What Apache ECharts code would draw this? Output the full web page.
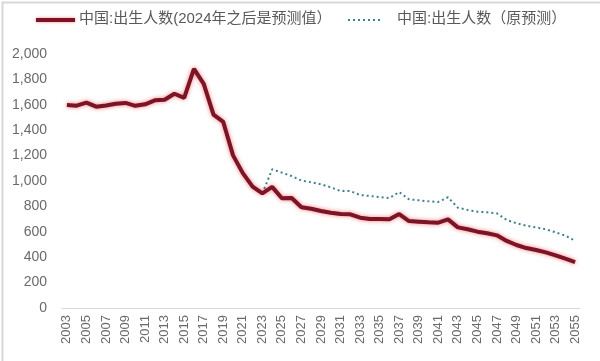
<!DOCTYPE html>
<html><head><meta charset="utf-8">
<script src="https://cdn.jsdelivr.net/npm/echarts@6/dist/echarts.min.js"></script>
<style>html,body{margin:0;padding:0;background:#fff}#c{width:600px;height:361px}</style>
</head><body><div id="c"></div>
<script>
const years = [];
for (let y = 2003; y <= 2055; y++) years.push(String(y));
const birthsMain = [1599,1593,1617,1585,1595,1608,1615,1592,1604,1635,1640,1687,1655,1883,1765,1523,1465,1202,1062,956,902,954,
  864,866,793,782,764,750,740,738,711,701,701,698,740,685,680,675,672,698,635,620,601,588,572,528,496,472,457,438,415,388,362];
const birthsOldForecast = [null,null,null,null,null,null,null,null,null,null,null,null,null,null,null,null,null,null,null,null,902,1092,
  1066,1039,1003,990,974,950,921,921,890,882,874,866,913,856,848,840,835,872,790,772,758,753,745,693,667,648,635,620,596,569,530];
const seriesNames = ['中国:出生人数(2024年之后是预测值）','中国:出生人数（原预测）'];
const yTicks = {min:0, max:2000, interval:200};

const font = "'Liberation Sans','Noto Sans CJK SC',sans-serif";
const mainColor = '#7a1426', oldColor = '#3f7f8e';
const chart = echarts.init(document.getElementById('c'), null, {renderer:'canvas'});
chart.setOption({
  animation:false,
  backgroundColor:'#fff',
  textStyle:{fontFamily:font},
  graphic:[
    {type:'rect',left:0,top:0,shape:{width:599,height:360},style:{fill:null,stroke:'#d8d8d8',lineWidth:2},silent:true},
    {type:'line',shape:{x1:36,y1:20,x2:75,y2:20},style:{stroke:mainColor,lineWidth:4,shadowColor:'rgba(230,20,20,0.55)',shadowBlur:3},silent:true},
    {type:'text',left:79,top:11,style:{text:seriesNames[0],fill:'#595959',font:"15px "+font},silent:true},
    {type:'line',shape:{x1:348,y1:20,x2:382,y2:20},style:{stroke:oldColor,lineWidth:2,lineDash:[2,3]},silent:true},
    {type:'text',left:397,top:11,style:{text:seriesNames[1],fill:'#595959',font:"15px "+font},silent:true}
  ],
  grid:{left:62,right:20,top:54,bottom:53,containLabel:false},
  xAxis:{
    type:'category', data:years, boundaryGap:true,
    axisLine:{lineStyle:{color:'#d9d9d9',width:1}},
    axisTick:{show:false},
    axisLabel:{rotate:90,interval:1,color:'#6a6a6a',fontSize:13,margin:7,fontFamily:font}
  },
  yAxis:{
    type:'value', min:yTicks.min, max:yTicks.max, interval:yTicks.interval,
    axisLine:{show:false}, axisTick:{show:false}, splitLine:{show:false},
    axisLabel:{color:'#6a6a6a',fontSize:14,margin:15,fontFamily:font,
      formatter:v=>v.toLocaleString('en-US')}
  },
  series:[
    {name:seriesNames[0],type:'line',data:birthsMain,showSymbol:false,symbol:'none',z:3,
      lineStyle:{color:mainColor,width:4,shadowColor:'rgba(230,20,20,0.55)',shadowBlur:4},
      itemStyle:{color:mainColor}},
    {name:seriesNames[1],type:'line',data:birthsOldForecast,showSymbol:false,symbol:'none',z:2,connectNulls:false,
      lineStyle:{color:oldColor,width:2,type:[2,3]},
      itemStyle:{color:oldColor}}
  ]
});
</script></body></html>
